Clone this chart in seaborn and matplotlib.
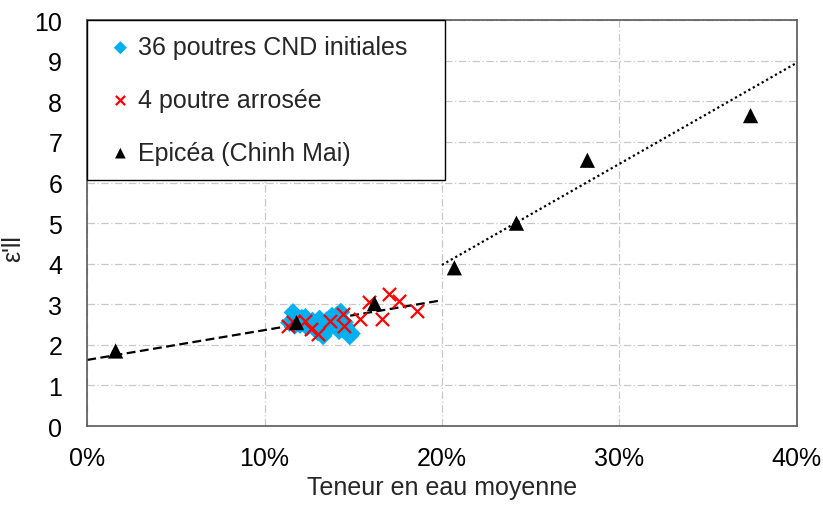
import numpy as np
import pandas as pd
import matplotlib
matplotlib.use("Agg")
import matplotlib.pyplot as plt
import seaborn as sns
from matplotlib.ticker import FuncFormatter, MultipleLocator

# Moisture content (%) and relative permittivity
cnd_x = [11.6, 11.4, 12.2, 12.7, 13.1, 13.0, 13.3, 13.8, 14.3, 14.4, 14.8, 14.5,
         13.7, 12.4, 11.8, 12.0, 12.5, 12.9, 13.5, 14.0, 14.6, 14.2, 13.4, 12.8,
         11.9, 12.3, 13.6, 14.7, 13.2, 12.6, 14.1, 11.7, 13.9, 14.9, 12.1, 13.0]
cnd_y = [2.80, 2.55, 2.59, 2.59, 2.64, 2.32, 2.22, 2.71, 2.81, 2.39, 2.22, 2.56,
         2.46, 2.44, 2.70, 2.50, 2.52, 2.40, 2.60, 2.66, 2.45, 2.35, 2.30, 2.48,
         2.62, 2.68, 2.52, 2.30, 2.42, 2.55, 2.74, 2.48, 2.62, 2.28, 2.66, 2.57]

arrosee_x = [11.3, 11.6, 12.3, 12.6, 13.0, 13.7, 14.4, 14.5, 15.4, 15.9, 16.6, 17.0, 17.6, 18.6]
arrosee_y = [2.46, 2.56, 2.59, 2.39, 2.27, 2.59, 2.76, 2.46, 2.64, 3.05, 2.64, 3.25, 3.08, 2.83]

epicea_x = [1.6, 11.8, 16.2, 20.7, 24.2, 28.2, 37.4]
epicea_y = [1.85, 2.55, 3.02, 3.90, 5.00, 6.55, 7.65]

# Linear trends (low and high moisture ranges)
trend_low_x = [0, 20]
trend_low_y = [1.63, 3.10]
trend_high_x = [20, 40]
trend_high_y = [3.97, 8.95]

sns.set_theme(style="white")
plt.rcParams["font.family"] = ["Liberation Sans", "DejaVu Sans"]

FS = 18

fig = plt.figure(figsize=(8.23, 5.06), dpi=100)
ax = fig.add_axes([0.106, 0.156, 0.862, 0.802])

sns.lineplot(x=trend_low_x, y=trend_low_y, ax=ax, color="black", lw=1.6,
             linestyle=(0, (4, 2)), zorder=2)
sns.lineplot(x=trend_high_x, y=trend_high_y, ax=ax, color="black", lw=1.6,
             linestyle=(0, (1, 1.3)), zorder=2)

sns.scatterplot(x=cnd_x, y=cnd_y, ax=ax, marker="D", color="#00B0F0", s=90,
                edgecolor="none", label="36 poutres CND initiales", zorder=3)
sns.scatterplot(x=arrosee_x, y=arrosee_y, ax=ax, marker="x", color="#FF0000", s=90,
                linewidth=1.6, label="4 poutre arrosée", zorder=4)
sns.scatterplot(x=epicea_x, y=epicea_y, ax=ax, marker="^", color="black", s=120,
                edgecolor="none", label="Epicéa (Chinh Mai)", zorder=5)

ax.set_xlim(0, 40)
ax.set_ylim(0, 10)
ax.xaxis.set_major_locator(MultipleLocator(10))
ax.yaxis.set_major_locator(MultipleLocator(1))
ax.xaxis.set_major_formatter(FuncFormatter(lambda v, p: f"{v:.0f}%"))

ax.grid(True, color="#C8C8C8", linestyle=(0, (6, 2, 1, 2)), linewidth=0.9)
for s in ax.spines.values():
    s.set_color("#595959")
    s.set_linewidth(1.2)

ax.tick_params(axis="x", labelsize=FS, colors="black", length=0, pad=14)
ax.tick_params(axis="y", labelsize=FS, colors="black", length=0, pad=18)
ax.set_xlabel("Teneur en eau moyenne", fontsize=FS, labelpad=4)
ax.set_ylabel("ε'll", fontsize=FS)
ax.yaxis.set_label_coords(-0.088, 0.44)

leg = ax.legend(loc="upper left", bbox_to_anchor=(0.0, 0.0, 0.505, 1.0),
                mode="expand", fontsize=FS,
                frameon=True, fancybox=False, framealpha=1, edgecolor="black",
                borderpad=0.6, labelspacing=1.15, handletextpad=0.0,
                handlelength=1.45, markerscale=0.7, borderaxespad=0)
leg.get_frame().set_linewidth(1.0)

fig.savefig("out.png", dpi=100)
